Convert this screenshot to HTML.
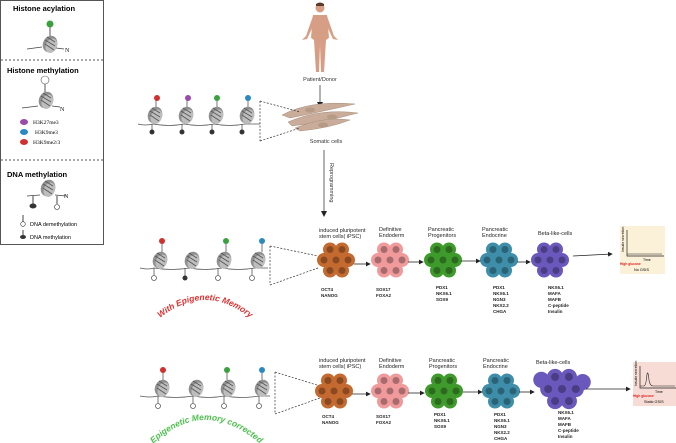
<!DOCTYPE html>
<html><head><meta charset="utf-8"><style>
body{margin:0;background:#fff}
svg{display:block;font-family:"Liberation Sans",sans-serif}
</style></head><body>
<svg width="676" height="443" viewBox="0 0 676 443" xmlns="http://www.w3.org/2000/svg">
<defs>
<marker id="ar" markerWidth="6" markerHeight="6" refX="5" refY="3" orient="auto"><path d="M0,0L6,3L0,6z" fill="#222"/></marker>
<g id="nuc"><ellipse cx="0" cy="0" rx="7" ry="8.5" fill="#8f8f8f" transform="rotate(25)"/><ellipse cx="2" cy="1" rx="5.5" ry="7.5" fill="#bdbdbd" transform="rotate(25)"/><path d="M-5,-4L5,2M-5,0L4,6M-3,-7L5,-2" stroke="#555" stroke-width="0.8"/></g>
<g id="cl">
<circle cx="0" cy="0" r="7"/><circle cx="-12" cy="0" r="7"/><circle cx="12" cy="0" r="7"/>
<circle cx="-6" cy="-10.5" r="7"/><circle cx="6" cy="-10.5" r="7"/><circle cx="-6" cy="10.5" r="7"/><circle cx="6" cy="10.5" r="7"/>
</g>
<g id="cli" fill-opacity="0.3" fill="#000">
<circle cx="0" cy="0" r="3.5"/><circle cx="-12" cy="0" r="3.5"/><circle cx="12" cy="0" r="3.5"/>
<circle cx="-6" cy="-10.5" r="3.5"/><circle cx="6" cy="-10.5" r="3.5"/><circle cx="-6" cy="10.5" r="3.5"/><circle cx="6" cy="10.5" r="3.5"/>
</g>
<path id="arc1" d="M160,318 Q205,282 250,318"/>
<path id="arc2" d="M155,442 Q205,398 258,442"/>
</defs>

<rect x="0.5" y="0.5" width="103" height="244" fill="#fff" stroke="#555"/>
<line x1="1" y1="60" x2="103" y2="60" stroke="#555" stroke-dasharray="2,2"/>
<line x1="1" y1="160" x2="103" y2="160" stroke="#555" stroke-dasharray="2,2"/>
<text x="13" y="11" font-size="7.5" font-weight="bold">Histone acylation</text>
<line x1="50" y1="26" x2="50" y2="40" stroke="#555"/><circle cx="50" cy="24" r="3.5" fill="#3aa040"/>
<use href="#nuc" x="50" y="44"/>
<path d="M27,49L42,47M56,48L64,49" stroke="#444" stroke-width="0.8" fill="none"/>
<text x="65" y="52" font-size="6" font-family="Liberation Serif">N</text>
<text x="7" y="73" font-size="7.5" font-weight="bold">Histone methylation</text>
<circle cx="45" cy="80" r="4" fill="#fff" stroke="#555" stroke-width="0.6"/><line x1="45" y1="84" x2="45" y2="95" stroke="#555"/>
<use href="#nuc" x="46" y="100"/>
<path d="M22,108L38,106M52,106L60,107" stroke="#444" stroke-width="0.8" fill="none"/>
<text x="60" y="111" font-size="6" font-family="Liberation Serif">N</text>
<ellipse cx="24" cy="122" rx="4" ry="3" fill="#9a4aa8"/><text x="33" y="124" font-size="5.5" font-family="Liberation Serif">H3K27me3</text>
<ellipse cx="24" cy="132" rx="4" ry="3" fill="#2a8ac0"/><text x="35" y="134" font-size="5.5" font-family="Liberation Serif">H3K9me3</text>
<ellipse cx="24" cy="142" rx="4" ry="3" fill="#d03030"/><text x="33" y="144" font-size="5.5" font-family="Liberation Serif">H3K9me2/3</text>
<text x="7" y="177" font-size="7.5" font-weight="bold">DNA methylation</text>
<use href="#nuc" x="48" y="188"/>
<path d="M27,196L40,195M55,195L66,196" stroke="#444" stroke-width="0.8" fill="none"/>
<line x1="33" y1="196" x2="33" y2="204" stroke="#444"/><ellipse cx="33" cy="206" rx="3.5" ry="2.5" fill="#333"/>
<line x1="57" y1="196" x2="57" y2="204" stroke="#444"/><circle cx="57" cy="207" r="2.5" fill="#fff" stroke="#333" stroke-width="0.6"/>
<text x="64" y="198" font-size="6" font-family="Liberation Serif">N</text>
<line x1="23" y1="215" x2="23" y2="222" stroke="#444"/><circle cx="23" cy="224" r="2.3" fill="#fff" stroke="#333" stroke-width="0.6"/>
<text x="30" y="226" font-size="5.5">DNA demethylation</text>
<line x1="23" y1="230" x2="23" y2="235" stroke="#444"/><ellipse cx="23" cy="237" rx="3" ry="2" fill="#333"/>
<text x="30" y="239" font-size="5.5">DNA methylation</text>

<g fill="#d79e86">
<circle cx="320" cy="8" r="4.5"/>
<path d="M313,15 L327,15 L329,38 L326,40 L324,72 L321,72 L320,45 L319,72 L316,72 L314,40 L311,38Z"/>
<path d="M313,16 L306,36 L302,40 L307,39 L315,22Z M327,16 L334,36 L338,40 L333,39 L325,22Z"/>
</g>
<path d="M316,4 Q320,1 324,4 L324,6 L316,6Z" fill="#5a3a2a"/>
<text x="320" y="81" font-size="5.5" text-anchor="middle" fill="#333">Patient/Donor</text>
<line x1="320" y1="85" x2="320" y2="107" stroke="#666" marker-end="url(#ar)"/>

<g fill="#c9ad9a" stroke="#a88f7c" stroke-width="0.5">
<path d="M282,115 Q310,100 355,104 Q320,112 290,118Z"/>
<path d="M288,122 Q320,108 358,113 Q325,122 292,126Z"/>
<path d="M295,128 Q325,116 350,120 Q330,128 300,131Z"/>
</g>
<g fill="#b59a86"><ellipse cx="310" cy="110" rx="5" ry="2.5"/><ellipse cx="332" cy="117" rx="5" ry="2.5"/><ellipse cx="323" cy="125" rx="5" ry="2.5"/></g>
<text x="326" y="143" font-size="5.5" text-anchor="middle" fill="#333">Somatic cells</text>
<line x1="324" y1="150" x2="324" y2="216" stroke="#666" marker-end="url(#ar)"/>
<text font-size="5.5" fill="#333" transform="translate(330,163) rotate(90)">Reprogramming</text>

<path d="M138,124 Q145,126 153,124 Q170,127 184,124 Q200,127 214,124 Q230,127 245,124 L260,124" stroke="#555" stroke-width="0.8" fill="none"/>
<g stroke="#555" stroke-width="0.8">
<line x1="156" y1="100" x2="156" y2="108"/><line x1="187" y1="100" x2="187" y2="108"/><line x1="217" y1="100" x2="217" y2="108"/><line x1="248" y1="100" x2="248" y2="108"/>
<line x1="152" y1="124" x2="152" y2="130"/><line x1="182" y1="124" x2="182" y2="130"/><line x1="212" y1="124" x2="212" y2="130"/><line x1="242" y1="124" x2="242" y2="130"/>
</g>
<use href="#nuc" x="155" y="115"/><use href="#nuc" x="186" y="115"/><use href="#nuc" x="216" y="115"/><use href="#nuc" x="247" y="115"/>
<circle cx="157" cy="98" r="3" fill="#d03030"/><circle cx="188" cy="98" r="3" fill="#9a4aa8"/><circle cx="217" cy="98" r="3" fill="#3aa040"/><circle cx="248" cy="98" r="3" fill="#2a8ac0"/>
<g fill="#333"><circle cx="152" cy="132" r="2.5"/><circle cx="182" cy="132" r="2.5"/><circle cx="212" cy="132" r="2.5"/><circle cx="242" cy="132" r="2.5"/></g>
<path d="M260,101 L300,112 M260,141 L300,128 M260,101 L260,141" stroke="#333" stroke-width="0.7" stroke-dasharray="2,1.5" fill="none"/>

<path d="M140,268 Q148,270 154,268 Q172,271 189,268 Q205,271 222,268 Q238,271 255,268 L268,268" stroke="#555" stroke-width="0.8" fill="none"/>
<g stroke="#555" stroke-width="0.8">
<line x1="162" y1="244" x2="162" y2="252"/><line x1="226" y1="244" x2="226" y2="252"/><line x1="262" y1="244" x2="262" y2="252"/>
<line x1="154" y1="268" x2="154" y2="276"/><line x1="185" y1="268" x2="185" y2="276"/><line x1="218" y1="268" x2="218" y2="276"/><line x1="252" y1="268" x2="252" y2="276"/>
</g>
<use href="#nuc" x="160" y="260"/><use href="#nuc" x="192" y="260"/><use href="#nuc" x="224" y="260"/><use href="#nuc" x="258" y="260"/>
<circle cx="162" cy="241" r="3" fill="#d03030"/><circle cx="226" cy="241" r="3" fill="#3aa040"/><circle cx="262" cy="241" r="3" fill="#2a8ac0"/>
<circle cx="154" cy="278" r="2.5" fill="#fff" stroke="#333" stroke-width="0.6"/><circle cx="185" cy="278" r="2.5" fill="#333"/><circle cx="218" cy="278" r="2.5" fill="#fff" stroke="#333" stroke-width="0.6"/><circle cx="252" cy="278" r="2.5" fill="#fff" stroke="#333" stroke-width="0.6"/>
<path d="M270,246 L318,256 M270,285 L318,268 M270,246 L270,285" stroke="#333" stroke-width="0.7" stroke-dasharray="2,1.5" fill="none"/>
<text font-size="8.5" font-weight="bold" font-style="italic" fill="#e03030"><textPath href="#arc1" startOffset="50%" text-anchor="middle">With Epigenetic Memory</textPath></text>

<g font-size="5.5" fill="#222">
<text x="319" y="232">induced pluripotent</text><text x="319" y="238">stem cells( iPSC)</text>
<text x="379" y="231">Definitive</text><text x="379" y="237">Endoderm</text>
<text x="428" y="231">Pancreatic</text><text x="428" y="237">Progenitors</text>
<text x="482" y="231">Pancreatic</text><text x="482" y="237">Endocrine</text>
<text x="538" y="235">Beta-like-cells</text>
</g>
<g fill="#c46a30"><use href="#cl" x="336" y="260"/></g><use href="#cli" x="336" y="260"/>
<g fill="#f09a9c"><use href="#cl" x="390" y="260"/></g><use href="#cli" x="390" y="260" fill-opacity="0.15"/>
<g fill="#3f9a2c"><use href="#cl" x="443" y="260"/></g><use href="#cli" x="443" y="260"/>
<g fill="#3e8eaa"><use href="#cl" x="499" y="260"/></g><use href="#cli" x="499" y="260"/>
<g fill="#6a58bc"><use href="#cl" x="550" y="260"/></g><use href="#cli" x="550" y="260"/>
<g stroke="#222" stroke-width="0.8" marker-end="url(#ar)">
<line x1="354" y1="264" x2="370" y2="264"/><line x1="408" y1="262" x2="423" y2="262"/><line x1="461" y1="261" x2="480" y2="261"/><line x1="517" y1="262" x2="530" y2="262"/>
<line x1="573" y1="256" x2="612" y2="254"/>
</g>
<g font-size="4.5" font-weight="bold" fill="#222">
<text x="321" y="291">OCT4</text><text x="321" y="297">NANOG</text>
<text x="376" y="291">SOX17</text><text x="376" y="297">FOXA2</text>
<text x="436" y="289">PDX1</text><text x="436" y="295">NKX6.1</text><text x="436" y="301">SOX9</text>
<text x="493" y="289">PDX1</text><text x="493" y="295">NKX6.1</text><text x="493" y="301">NGN3</text><text x="493" y="307">NKX2.2</text><text x="493" y="313">CHGA</text>
<text x="548" y="289">NKX6.1</text><text x="548" y="295">MAFA</text><text x="548" y="301">MAFB</text><text x="548" y="307">C-peptide</text><text x="548" y="313">Insulin</text>
</g>
<rect x="620" y="226" width="45" height="48" fill="#fbf0d8"/>
<path d="M627,230 L627,256 L664,256" stroke="#222" stroke-width="0.7" fill="none"/>
<path d="M627,254 L662,254" stroke="#222" stroke-width="0.5"/>
<text font-size="3.5" transform="translate(624,252) rotate(-90)">Insulin secretion</text>
<text x="643" y="261" font-size="3.5">Time</text>
<text x="620" y="265" font-size="3.3" fill="#e02020" font-weight="bold">High glucose</text>
<text x="634" y="271" font-size="3.8">No GSIS</text>

<path d="M140,396 Q150,398 158,396 Q176,399 193,396 Q209,399 224,396 Q242,399 259,396 L270,396" stroke="#555" stroke-width="0.8" fill="none"/>
<g stroke="#555" stroke-width="0.8">
<line x1="163" y1="370" x2="163" y2="380"/><line x1="227" y1="370" x2="227" y2="380"/><line x1="262" y1="370" x2="262" y2="380"/>
<line x1="158" y1="396" x2="158" y2="404"/><line x1="193" y1="396" x2="193" y2="404"/><line x1="224" y1="396" x2="224" y2="404"/><line x1="259" y1="396" x2="259" y2="404"/>
</g>
<use href="#nuc" x="162" y="388"/><use href="#nuc" x="196" y="388"/><use href="#nuc" x="228" y="388"/><use href="#nuc" x="262" y="388"/>
<circle cx="163" cy="370" r="3" fill="#d03030"/><circle cx="227" cy="370" r="3" fill="#3aa040"/><circle cx="262" cy="370" r="3" fill="#2a8ac0"/>
<g fill="#fff" stroke="#333" stroke-width="0.6"><circle cx="158" cy="406" r="2.5"/><circle cx="193" cy="406" r="2.5"/><circle cx="224" cy="406" r="2.5"/><circle cx="259" cy="406" r="2.5"/></g>
<path d="M275,372 L320,386 M275,414 L320,398 M275,372 L275,414" stroke="#333" stroke-width="0.7" stroke-dasharray="2,1.5" fill="none"/>
<text font-size="8.5" font-weight="bold" font-style="italic" fill="#4cc04c"><textPath href="#arc2" startOffset="50%" text-anchor="middle">Epigenetic Memory corrected</textPath></text>

<g font-size="5.5" fill="#222">
<text x="319" y="362">induced pluripotent</text><text x="319" y="368">stem cells( iPSC)</text>
<text x="379" y="362">Definitive</text><text x="379" y="368">Endoderm</text>
<text x="429" y="362">Pancreatic</text><text x="429" y="368">Progenitors</text>
<text x="483" y="362">Pancreatic</text><text x="483" y="368">Endocrine</text>
<text x="536" y="364">Beta-like-cells</text>
</g>
<g fill="#c46a30"><use href="#cl" x="334" y="391"/></g><use href="#cli" x="334" y="391"/>
<g fill="#f09a9c"><use href="#cl" x="390" y="391"/></g><use href="#cli" x="390" y="391" fill-opacity="0.15"/>
<g fill="#3f9a2c"><use href="#cl" x="444" y="391"/></g><use href="#cli" x="444" y="391"/>
<g fill="#3e8eaa"><use href="#cl" x="501" y="391"/></g><use href="#cli" x="501" y="391"/>
<g fill="#6a58bc" transform="translate(562,389) scale(1.15)"><use href="#cl"/><circle cx="-18" cy="-8" r="7"/><circle cx="18" cy="-6" r="7"/></g>
<use href="#cli" transform="translate(562,389) scale(1.15)"/>
<g stroke="#222" stroke-width="0.8" marker-end="url(#ar)">
<line x1="352" y1="394" x2="370" y2="394"/><line x1="408" y1="393" x2="424" y2="393"/><line x1="463" y1="392" x2="482" y2="392"/><line x1="519" y1="392" x2="534" y2="392"/>
<line x1="586" y1="389" x2="630" y2="389"/>
</g>
<g font-size="4.5" font-weight="bold" fill="#222">
<text x="322" y="418">OCT4</text><text x="322" y="424">NANOG</text>
<text x="376" y="418">SOX17</text><text x="376" y="424">FOXA2</text>
<text x="434" y="416">PDX1</text><text x="434" y="422">NKX6.1</text><text x="434" y="428">SOX9</text>
<text x="494" y="416">PDX1</text><text x="494" y="422">NKX6.1</text><text x="494" y="428">NGN3</text><text x="494" y="434">NKX2.2</text><text x="494" y="440">CHGA</text>
<text x="558" y="414">NKX6.1</text><text x="558" y="420">MAFA</text><text x="558" y="426">MAFB</text><text x="558" y="432">C-peptide</text><text x="558" y="438">Insulin</text>
</g>
<rect x="633" y="362" width="43" height="44" fill="#f6dcd4"/>
<path d="M640,366 L640,388 L676,388" stroke="#222" stroke-width="0.7" fill="none"/>
<path d="M640,386 L644,386 Q646,386 647,374 Q648,370 649,380 Q650,386 653,386 L675,386" stroke="#222" stroke-width="0.6" fill="none"/>
<text font-size="3.5" transform="translate(637,386) rotate(-90)">Insulin secretion</text>
<text x="655" y="393" font-size="3.5">Time</text>
<text x="633" y="397" font-size="3.3" fill="#e02020" font-weight="bold">High glucose</text>
<text x="644" y="403" font-size="3.8">Static GSIS</text>
</svg>
</body></html>
